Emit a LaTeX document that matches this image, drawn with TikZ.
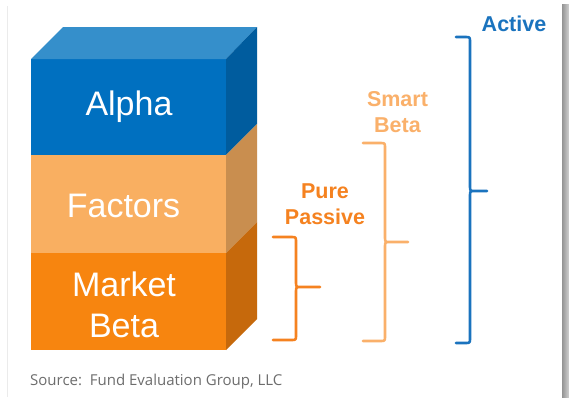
\documentclass[tikz,border=0pt]{standalone}
\usepackage{fontspec}
\setmainfont{Liberation Sans}
\newfontfamily\srcfont{Open Sans}
\definecolor{alphaFront}{HTML}{0070C0}
\definecolor{alphaTop}{HTML}{358FCB}
\definecolor{alphaSide}{HTML}{005C9E}
\definecolor{factFront}{HTML}{F9AF61}
\definecolor{factSide}{HTML}{C98E4F}
\definecolor{mktFront}{HTML}{F7850F}
\definecolor{mktSide}{HTML}{C6690C}
\definecolor{activeBlue}{HTML}{1A73BE}
\definecolor{smartOrange}{HTML}{FAB06A}
\definecolor{pureOrange}{HTML}{F58220}
\definecolor{srcGray}{HTML}{6D6D6D}
\begin{document}
\begin{tikzpicture}[x=1pt,y=-1pt,
  layerlabel/.style={text=white,font=\fontsize{34}{41}\selectfont,align=center,inner sep=0pt},
  bracelabel/.style={font=\bfseries\fontsize{21.5}{26}\selectfont,align=center,inner sep=0pt},
  brace/.style={line width=2.6pt,line cap=round,line join=round}]
  \useasboundingbox (0,0) rectangle (569,397);
  \fill[white] (0,0) rectangle (569,397);
  % page frame: faint left rule and right drop shadow
  \draw[color=black!8,line width=0.8pt] (7,6) -- (7,397);
  \shade[left color=black!42,right color=black!18] (562,4) rectangle (569,397);

  % stacked block: front faces
  \fill[alphaFront] (31,59) rectangle (226,155);
  \fill[factFront] (31,155) rectangle (226,253);
  \fill[mktFront] (31,253) rectangle (226,350);
  % top face
  \fill[alphaTop] (31,59) -- (63,27) -- (257,27) -- (226,59) -- cycle;
  % side faces
  \fill[alphaSide] (226,59) -- (257,27) -- (257,124) -- (226,155) -- cycle;
  \fill[factSide] (226,155) -- (257,124) -- (257,222) -- (226,253) -- cycle;
  \fill[mktSide] (226,253) -- (257,222) -- (257,319) -- (226,350) -- cycle;

  \node[layerlabel] (alpha) at (129,107) {Alpha};
  \node[layerlabel] (factors) at (123.5,205.5) {Factors};
  \node[layerlabel] (market) at (124,305) {Market\\Beta};

  % braces
  \coordinate (ppTop) at (273,237);
  \coordinate (ppBot) at (273,340);
  \draw[brace,pureOrange] (ppTop) -- (291,237) .. controls (296,237) .. (296,242)
    -- (296,282) .. controls (296,287) .. (301,287) -- (320,287)
    (301,287) .. controls (296,287) .. (296,292) -- (296,335)
    .. controls (296,340) .. (291,340) -- (ppBot);
  \coordinate (sbTop) at (363,143);
  \coordinate (sbBot) at (363,341);
  \draw[brace,smartOrange] (sbTop) -- (380,143) .. controls (385,143) .. (385,148)
    -- (385,237) .. controls (385,242) .. (390,242) -- (408,242)
    (390,242) .. controls (385,242) .. (385,247) -- (385,336)
    .. controls (385,341) .. (380,341) -- (sbBot);
  \coordinate (acTop) at (456,37);
  \coordinate (acBot) at (456,343);
  \draw[brace,activeBlue] (acTop) -- (465,37) .. controls (470,37) .. (470,42)
    -- (470,186) .. controls (470,191) .. (475,191) -- (487,191)
    (475,191) .. controls (470,191) .. (470,196) -- (470,338)
    .. controls (470,343) .. (465,343) -- (acBot);

  \node[bracelabel,text=activeBlue] (active) at (514,24) {Active};
  \node[bracelabel,text=smartOrange] (smart) at (397.5,112) {Smart\\Beta};
  \node[bracelabel,text=pureOrange] (pure) at (325,204) {Pure\\Passive};

  \node[anchor=base west,inner sep=0pt,text=srcGray,font=\srcfont\fontsize{15}{18}\selectfont]
    (source) at (30,385) {Source:\ \ Fund Evaluation Group, LLC};
\end{tikzpicture}
\end{document}
